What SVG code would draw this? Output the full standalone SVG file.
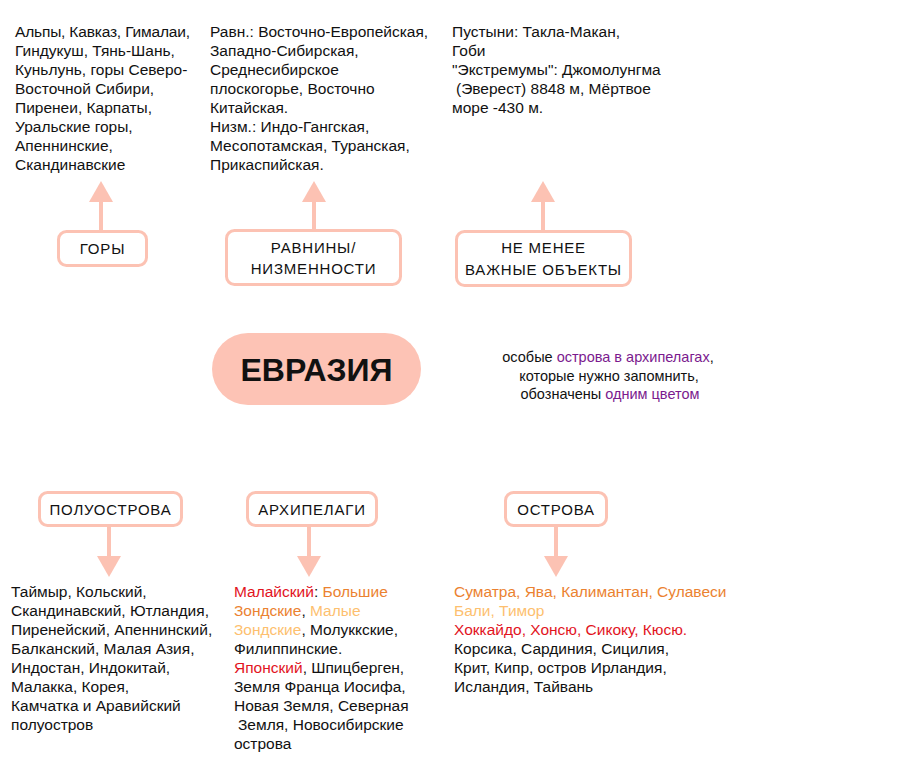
<svg xmlns="http://www.w3.org/2000/svg" width="905" height="774" viewBox="0 0 905 774">
<defs>
<style>
text{font-family:"Liberation Sans",Arial,sans-serif;fill:#111}
.b{font-size:15.5px}
.lbl{font-size:15px;letter-spacing:0.8px;text-anchor:middle}
.box{fill:#fff;stroke:#fcc2b3;stroke-width:3}
.ln{stroke:#fcc2b3;stroke-width:4;fill:none}
.hd{fill:#fcc2b3}
.r{fill:#e2141e}
.o{fill:#eb8230}
.lo{fill:#fdbf6f}
.p{fill:#7b1a8e}
.note{font-size:14.5px;text-anchor:middle}
</style>
</defs>
<rect width="905" height="774" fill="#fff"/>
<g id="connectors">
<line class="ln" x1="101" y1="231" x2="101" y2="198"/>
<polygon class="hd" points="101,181 89,202 113,202"/>
<line class="ln" x1="314" y1="230" x2="314" y2="198"/>
<polygon class="hd" points="314,181 302,202 326,202"/>
<line class="ln" x1="543" y1="231" x2="543" y2="198"/>
<polygon class="hd" points="543,181 531,202 555,202"/>
<line class="ln" x1="109" y1="525" x2="109" y2="560"/>
<polygon class="hd" points="109,577 97,556 121,556"/>
<line class="ln" x1="309" y1="525" x2="309" y2="560"/>
<polygon class="hd" points="309,577 297,556 321,556"/>
<line class="ln" x1="556" y1="525" x2="556" y2="560"/>
<polygon class="hd" points="556,577 544,556 568,556"/>
</g>
<g id="center">
<rect x="212" y="333" width="209" height="72" rx="36" fill="#fdc3b5"/>
<text x="316.5" y="381" font-size="32" font-weight="bold" text-anchor="middle">ЕВРАЗИЯ</text>
</g>
<g id="gory">
<rect class="box" x="58.5" y="231.5" width="88" height="34" rx="8"/>
<text class="lbl" x="102.5" y="253.5">ГОРЫ</text>
</g>
<g id="ravniny">
<rect class="box" x="226.5" y="230.5" width="174" height="54" rx="8"/>
<text class="lbl" x="313.5" y="252.5">РАВНИНЫ/</text>
<text class="lbl" x="313.5" y="273.5">НИЗМЕННОСТИ</text>
</g>
<g id="vazhnye">
<rect class="box" x="456.5" y="231.5" width="174" height="54" rx="8"/>
<text class="lbl" x="543.5" y="252.5">НЕ МЕНЕЕ</text>
<text class="lbl" x="543.5" y="274.5">ВАЖНЫЕ ОБЪЕКТЫ</text>
</g>
<g id="poluostrova">
<rect class="box" x="39.5" y="492.5" width="142" height="33" rx="8"/>
<text class="lbl" x="110.5" y="514.5">ПОЛУОСТРОВА</text>
</g>
<g id="arhipelagi">
<rect class="box" x="247.5" y="492.5" width="129" height="33" rx="8"/>
<text class="lbl" x="312" y="514.5">АРХИПЕЛАГИ</text>
</g>
<g id="ostrova">
<rect class="box" x="505.5" y="492.5" width="101" height="33" rx="8"/>
<text class="lbl" x="556" y="514.5">ОСТРОВА</text>
</g>
<g id="gory-text">
<text class="b" x="15" y="37" textLength="175" lengthAdjust="spacing">Альпы, Кавказ, Гималаи,</text>
<text class="b" x="15" y="56">Гиндукуш, Тянь-Шань,</text>
<text class="b" x="15" y="75">Куньлунь, горы Северо-</text>
<text class="b" x="15" y="94">Восточной Сибири,</text>
<text class="b" x="15" y="113">Пиренеи, Карпаты,</text>
<text class="b" x="15" y="132">Уральские горы,</text>
<text class="b" x="15" y="151">Апеннинские,</text>
<text class="b" x="15" y="170">Скандинавские</text>
</g>
<g id="ravniny-text">
<text class="b" x="210" y="37">Равн.: Восточно-Европейская,</text>
<text class="b" x="210" y="56">Западно-Сибирская,</text>
<text class="b" x="210" y="75">Среднесибирское</text>
<text class="b" x="210" y="94">плоскогорье, Восточно</text>
<text class="b" x="210" y="113">Китайская.</text>
<text class="b" x="210" y="132">Низм.: Индо-Гангская,</text>
<text class="b" x="210" y="151">Месопотамская, Туранская,</text>
<text class="b" x="210" y="170">Прикаспийская.</text>
</g>
<g id="vazhnye-text">
<text class="b" x="452" y="37">Пустыни: Такла-Макан,</text>
<text class="b" x="452" y="56">Гоби</text>
<text class="b" x="452" y="75">"Экстремумы": Джомолунгма</text>
<text class="b" x="456" y="94">(Эверест) 8848 м, Мёртвое</text>
<text class="b" x="452" y="113">море -430 м.</text>
</g>
<g id="note">
<text class="note" x="608" y="362">особые <tspan class="p">острова в архипелагах</tspan>,</text>
<text class="note" x="609" y="381">которые нужно запомнить,</text>
<text class="note" x="610" y="399">обозначены <tspan class="p">одним цветом</tspan></text>
</g>
<g id="poluostrova-text">
<text class="b" x="11" y="597">Таймыр, Кольский,</text>
<text class="b" x="11" y="616">Скандинавский, Ютландия,</text>
<text class="b" x="11" y="635">Пиренейский, Апеннинский,</text>
<text class="b" x="11" y="654">Балканский, Малая Азия,</text>
<text class="b" x="11" y="673">Индостан, Индокитай,</text>
<text class="b" x="11" y="692">Малакка, Корея,</text>
<text class="b" x="11" y="711">Камчатка и Аравийский</text>
<text class="b" x="11" y="730">полуостров</text>
</g>
<g id="arhipelagi-text">
<text class="b" x="234" y="597"><tspan class="r">Малайский</tspan>: <tspan class="o">Большие</tspan></text>
<text class="b" x="234" y="616"><tspan class="o">Зондские</tspan>, <tspan class="lo">Малые</tspan></text>
<text class="b" x="234" y="635"><tspan class="lo">Зондские</tspan>, Молуккские,</text>
<text class="b" x="234" y="654">Филиппинские.</text>
<text class="b" x="234" y="673"><tspan class="r">Японский</tspan>, Шпицберген,</text>
<text class="b" x="234" y="692">Земля Франца Иосифа,</text>
<text class="b" x="234" y="711">Новая Земля, Северная</text>
<text class="b" x="238" y="730">Земля, Новосибирские</text>
<text class="b" x="234" y="749">острова</text>
</g>
<g id="ostrova-text">
<text class="b o" x="454" y="597">Суматра, Ява, Калимантан, Сулавеси</text>
<text class="b lo" x="454" y="616">Бали, Тимор</text>
<text class="b r" x="454" y="635">Хоккайдо, Хонсю, Сикоку, Кюсю.</text>
<text class="b" x="454" y="654">Корсика, Сардиния, Сицилия,</text>
<text class="b" x="454" y="673">Крит, Кипр, остров Ирландия,</text>
<text class="b" x="454" y="692">Исландия, Тайвань</text>
</g>
</svg>
